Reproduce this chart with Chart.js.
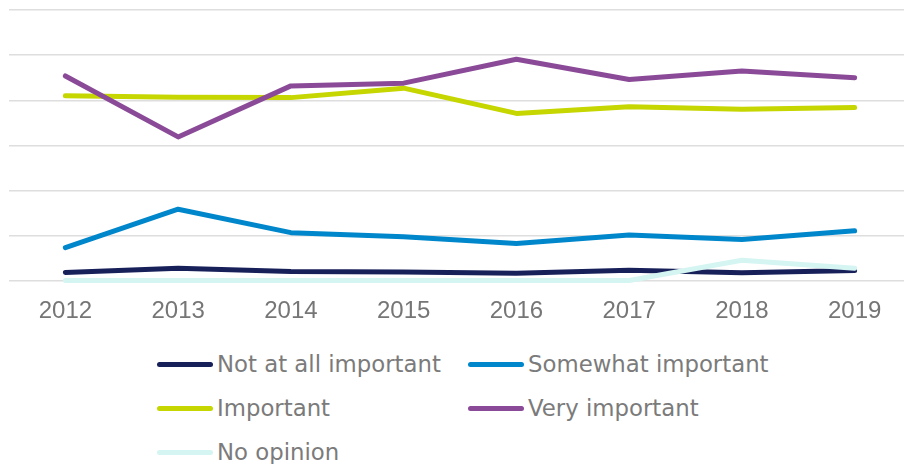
<!DOCTYPE html>
<html>
<head>
<meta charset="utf-8">
<script src="https://cdn.jsdelivr.net/npm/chart.js@4.4.1/dist/chart.umd.min.js"></script>
<style>
  html, body { margin: 0; padding: 0; background: #ffffff; overflow: hidden; }
  body { width: 904px; height: 464px; position: relative; }
  #chartBox { position: absolute; left: 0; top: 0; width: 920px; height: 331px; }
  .legend-item { position: absolute; height: 30px; display: flex; align-items: center;
    font-family: "DejaVu Sans", sans-serif; font-size: 22.8px; color: #7b7b7b; white-space: nowrap; }
  .legend-item .swatch { width: 56px; height: 5px; border-radius: 3px; margin-right: 4px; }
</style>
</head>
<body>
<div id="chartBox"><canvas id="chart" width="920" height="331"></canvas></div>
<div id="legend"></div>
<script>
// Survey years
const years = ['2012', '2013', '2014', '2015', '2016', '2017', '2018', '2019'];

// Share of respondents per answer (%)
const notAtAllImportant = [1.9, 2.8, 2.1, 2.0, 1.7, 2.4, 1.8, 2.3];
const somewhatImportant = [7.4, 15.9, 10.7, 9.8, 8.3, 10.2, 9.2, 11.1];
const important        = [41.0, 40.7, 40.6, 42.7, 37.1, 38.6, 38.0, 38.4];
const veryImportant    = [45.4, 31.9, 43.2, 43.8, 49.1, 44.6, 46.5, 45.0];
const noOpinion        = [0.1, 0.1, 0.1, 0.1, 0.1, 0.1, 4.6, 2.8];

const seriesNames  = ['Not at all important', 'Somewhat important', 'Important', 'Very important', 'No opinion'];
const seriesValues = [notAtAllImportant, somewhatImportant, important, veryImportant, noOpinion];
const seriesColors = ['#18205a', '#0087cb', '#c5d600', '#8b4a98', '#d5f5f2'];

// y range and gridline spacing
const yMin = 0, yMax = 60, yStep = 10;

const datasets = seriesNames.map((name, i) => ({
  label: name,
  data: seriesValues[i],
  borderColor: seriesColors[i],
  backgroundColor: seriesColors[i],
  borderWidth: 5,
  pointRadius: 0,
  pointHoverRadius: 0,
  tension: 0,
  fill: false,
  borderCapStyle: 'round',
  borderJoinStyle: 'round',
  clip: false,
  order: seriesNames.length - i   // later series are drawn on top
}));

new Chart(document.getElementById('chart'), {
  type: 'line',
  data: { labels: years, datasets },
  options: {
    responsive: false,
    devicePixelRatio: 1,
    animation: false,
    layout: { padding: { left: 9, right: 9, top: 10, bottom: 0 } },
    plugins: { legend: { display: false }, tooltip: { enabled: false } },
    scales: {
      x: {
        offset: true,
        grid: { display: false, drawTicks: false },
        border: { display: false },
        ticks: {
          padding: 16,
          color: '#767676',
          font: { family: '"Liberation Sans", Arial, sans-serif', size: 24 }
        },
        afterFit: (s) => { s.height = 50; }
      },
      y: {
        min: yMin, max: yMax,
        grid: { color: '#dedede', lineWidth: 1.5, drawTicks: false },
        border: { display: false },
        ticks: { display: false, stepSize: yStep },
        afterFit: (s) => { s.width = 0; }
      }
    }
  }
});

// Legend laid out in two columns below the plot
const legendSlots = [
  { left: 157, top: 364 }, { left: 468, top: 364 },
  { left: 157, top: 408 }, { left: 468, top: 408 },
  { left: 157, top: 452 }
];
const legendEl = document.getElementById('legend');
seriesNames.forEach((name, i) => {
  const item = document.createElement('div');
  item.className = 'legend-item';
  item.style.left = legendSlots[i].left + 'px';
  item.style.top = (legendSlots[i].top - 15) + 'px';
  const sw = document.createElement('span');
  sw.className = 'swatch';
  sw.style.background = seriesColors[i];
  const tx = document.createElement('span');
  tx.textContent = name;
  item.appendChild(sw);
  item.appendChild(tx);
  legendEl.appendChild(item);
});
</script>
</body>
</html>
